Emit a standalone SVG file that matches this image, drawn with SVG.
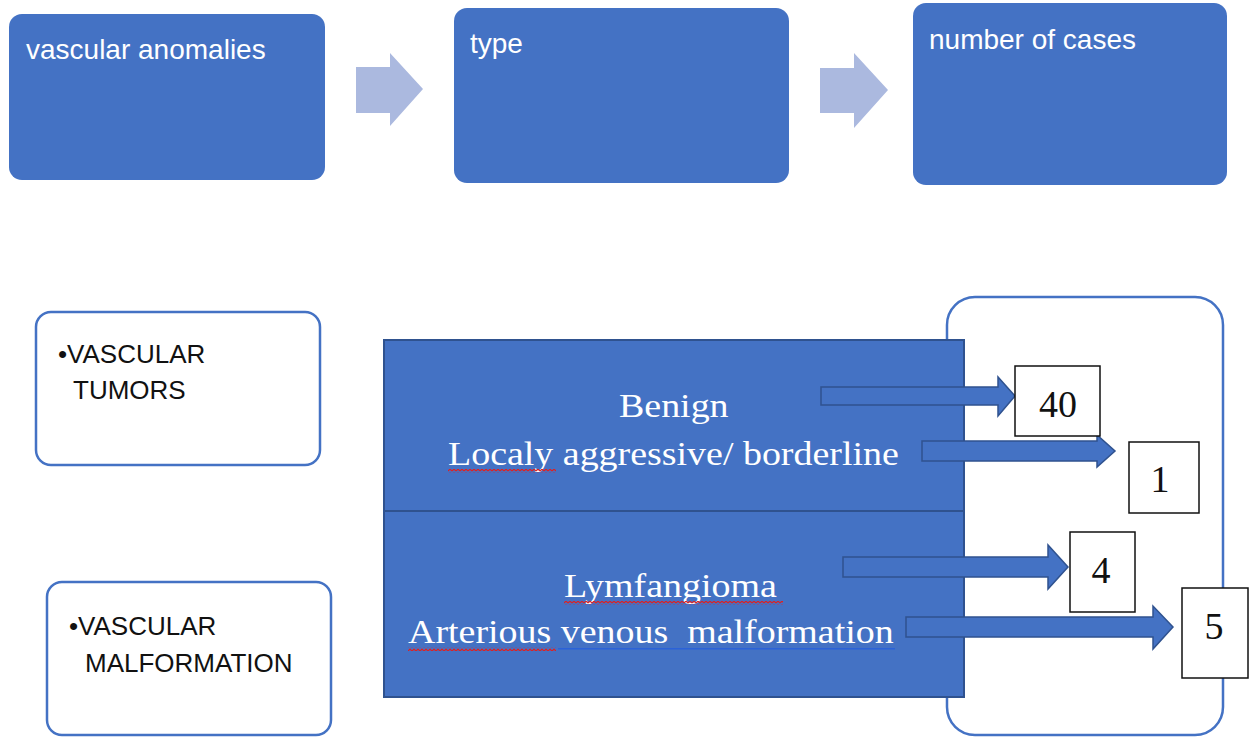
<svg xmlns="http://www.w3.org/2000/svg" width="1249" height="737" viewBox="0 0 1249 737">
<defs>
<style>
.hdr{fill:#4472C4}
.hdrtxt{font-family:"Liberation Sans",Arial,sans-serif;font-size:28px;fill:#FFFFFF}
.chev{fill:#ABB9DF}
.cat{fill:#FFFFFF;stroke:#4472C4;stroke-width:2.5}
.cattxt{font-family:"Liberation Sans",Arial,sans-serif;font-size:26px;fill:#111111}
.block{fill:#4472C4;stroke:#2F528F;stroke-width:2}
.serif{font-family:"Liberation Serif","Times New Roman",serif;font-size:33px;fill:#FFFFFF;white-space:pre}
.arr{fill:#4472C4;stroke:#2F528F;stroke-width:1.5}
.num{fill:#FFFFFF;stroke:#111111;stroke-width:1.5}
.numtxt{font-family:"Liberation Serif","Times New Roman",serif;font-size:38px;fill:#111111;text-anchor:middle}
.frame{fill:#FFFFFF;stroke:#4472C4;stroke-width:2.5}
</style>
<pattern id="wavy" width="4" height="4" patternUnits="userSpaceOnUse">
<path d="M0,3 L2,1 L4,3" fill="none" stroke="#E02020" stroke-width="1.2"/>
</pattern>
</defs>

<g id="header-vascular-anomalies">
<rect class="hdr" x="9" y="14" width="316" height="166" rx="13"/>
<text class="hdrtxt" x="26" y="59">vascular anomalies</text>
</g>
<g id="header-type">
<rect class="hdr" x="454" y="8" width="335" height="175" rx="13"/>
<text class="hdrtxt" x="470" y="53">type</text>
</g>
<g id="header-number">
<rect class="hdr" x="913" y="3" width="314" height="182" rx="13"/>
<text class="hdrtxt" x="929" y="49">number of cases</text>
</g>

<g id="cat-tumors">
<rect class="cat" x="36" y="312" width="284" height="153" rx="15"/>
<text class="cattxt" x="58" y="363">•VASCULAR</text>
<text class="cattxt" x="73" y="399">TUMORS</text>
</g>
<g id="cat-malformation">
<rect class="cat" x="47" y="582" width="284" height="153" rx="15"/>
<text class="cattxt" x="69" y="635">•VASCULAR</text>
<text class="cattxt" x="85" y="672">MALFORMATION</text>
</g>

<g id="counts-frame">
<rect class="frame" x="947" y="297" width="276" height="438" rx="28"/>
</g>

<g id="types-block">
<rect class="block" x="384" y="340" width="580" height="171"/>
<rect class="block" x="384" y="511" width="580" height="186"/>
<text class="serif" transform="translate(619,417) scale(1.15,1)">Benign</text>
<text class="serif" transform="translate(448,465) scale(1.15,1)">Localy aggressive/ borderline</text>
<text class="serif" transform="translate(564,597) scale(1.15,1)">Lymfangioma</text>
<text class="serif" transform="translate(408,643) scale(1.15,1)">Arterious venous  malformation</text>
<rect x="448" y="469" width="108" height="4" fill="url(#wavy)"/>
<rect x="564" y="601" width="219" height="4" fill="url(#wavy)"/>
<rect x="408" y="647" width="148" height="4" fill="url(#wavy)"/>
<rect x="558" y="648" width="337" height="1.5" fill="#2B62D8"/>
</g>

<g id="connectors">
<polygon class="chev" points="356,67 390,67 390,53 423,89 390,126 390,113 356,113"/>
<polygon class="chev" points="820,68 854,68 854,53 888,90 854,128 854,113 820,113"/>
<polygon class="arr" points="821,387 998,387 998,377 1015,396 998,416 998,405 821,405"/>
<polygon class="arr" points="922,441 1097,441 1097,435 1115,451 1097,467 1097,461 922,461"/>
<polygon class="arr" points="843,557 1048,557 1048,545 1068,567 1048,589 1048,577 843,577"/>
<polygon class="arr" points="906,617 1153,617 1153,606 1173,627 1153,649 1153,637 906,637"/>
</g>

<g id="count-40">
<rect class="num" x="1015" y="366" width="85" height="70"/>
<text class="numtxt" x="1058" y="417">40</text>
</g>
<g id="count-1">
<rect class="num" x="1129" y="442" width="70" height="71"/>
<text class="numtxt" x="1160" y="492">1</text>
</g>
<g id="count-4">
<rect class="num" x="1070" y="532" width="65" height="80"/>
<text class="numtxt" x="1101" y="583">4</text>
</g>
<g id="count-5">
<rect class="num" x="1182" y="588" width="66" height="90"/>
<text class="numtxt" x="1214" y="639">5</text>
</g>
</svg>
